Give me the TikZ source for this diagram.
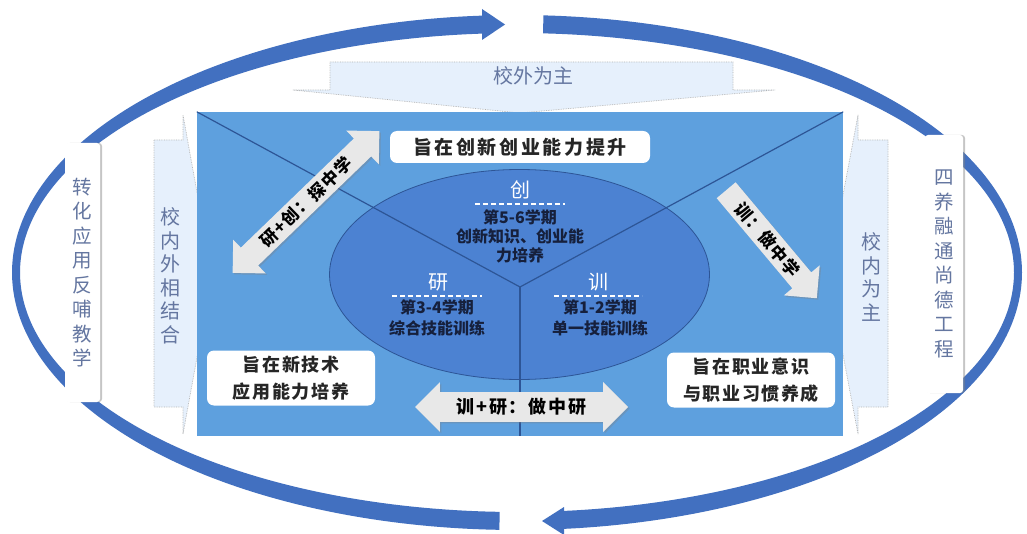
\documentclass[tikz,border=0pt]{standalone}
\usepackage{fontspec}
\setmainfont{Noto Sans CJK SC}
\usetikzlibrary{shapes.arrows,shapes.geometric,shadows}
\definecolor{ringblue}{RGB}{66,112,192}
\definecolor{rectblue}{RGB}{94,160,222}
\definecolor{ellblue}{RGB}{76,130,210}
\definecolor{linedark}{RGB}{45,85,150}
\definecolor{calloutfill}{RGB}{230,240,252}
\definecolor{softtext}{RGB}{100,118,160}
\definecolor{arrowgray}{RGB}{232,232,232}
\definecolor{navytext}{RGB}{22,32,60}
\newcommand\fsz[2]{\fontsize{#1pt}{#2pt}\selectfont}
\newcommand\lsp[1]{\addfontfeature{LetterSpace=#1}}
\begin{document}
\begin{tikzpicture}[x=1pt,y=-1pt,
  outbox/.style={fill=white, rounded corners=3pt, drop shadow={shadow xshift=2pt, shadow yshift=0pt, opacity=0.45}, text=softtext, align=center, font=\fsz{19.5}{24.5}, inner sep=0pt},
  callout/.style={fill=calloutfill, draw=gray!60, densely dotted, line width=0.7pt},
  callouttext/.style={text=softtext, align=center, font=\fsz{20}{23.5}},
  aimbox/.style={fill=white, rounded corners=7pt, align=center, font=\bfseries\fsz{18}{27}\lsp{9}, inner sep=0pt, text=black!85},
  stagelbl/.style={text=white, font=\fsz{20}{22}},
  stagetxt/.style={text=navytext, align=center, font=\bfseries\fsz{16}{19}},
  sep/.style={white, line width=1.8pt, dash pattern=on 5pt off 3pt},
  grayarrow/.style={fill=arrowgray, draw=none, text=black, font=\bfseries\fsz{17}{19}\lsp{8}, inner sep=4pt, drop shadow={shadow xshift=1.5pt, shadow yshift=-1.5pt, opacity=0.35}},
]
\useasboundingbox (0,0) rectangle (1027,534);
\fill[white] (0,0) rectangle (1027,534);

% outer ring arrows (crescent bands)
\fill[ringblue] plot[domain=94:268, samples=90, smooth, variable=\t] ({517+505*cos(\t)},{272.5-257.5*sin(\t)})
  -- plot[domain=268:94, samples=90, smooth, variable=\t] ({517+497*cos(\t)},{272.5-239.5*sin(\t)}) -- cycle;
\fill[ringblue] (482,9) -- (505,24.5) -- (482,40) -- cycle;
\fill[ringblue] plot[domain=87:-85, samples=90, smooth, variable=\t] ({517+505*cos(\t)},{272.5-257.5*sin(\t)})
  -- plot[domain=-85:87, samples=90, smooth, variable=\t] ({517+497*cos(\t)},{272.5-239.5*sin(\t)}) -- cycle;
\fill[ringblue] (564,507) -- (542,521) -- (564,535) -- cycle;

% outer white boxes
\node[outbox, minimum width=35, minimum height=259] (lbox) at (82.5,272.5) {转\\化\\应\\用\\反\\哺\\教\\学};
\node[outbox, minimum width=38, minimum height=258] (rbox) at (944,264) {四\\养\\融\\通\\尚\\德\\工\\程};

% callouts
\draw[callout] (330,62) -- (733,62) -- (733,90) -- (775,90) -- (520,113) -- (293,90) -- (330,90) -- cycle;
\node[callouttext] (toptxt) at (533,76) {校外为主};
\draw[callout] (154,140) -- (183,140) -- (183,115) -- (212,275) -- (183,434) -- (183,407) -- (154,407) -- cycle;
\node[callouttext] (lefttxt) at (170,276) {校\\内\\外\\相\\结\\合};
\draw[callout] (888,140) -- (858,140) -- (858,115) -- (828,275) -- (858,434) -- (858,407) -- (888,407) -- cycle;
\node[callouttext] (righttxt) at (871,277) {校\\内\\为\\主};

% central panel
\node[fill=rectblue, minimum width=646, minimum height=324, inner sep=0pt] (panel) at (520,274) {};
\node[ellipse, fill=ellblue, draw=linedark, line width=0.8pt, minimum width=380, minimum height=210, inner sep=0pt] (ell) at (519.5,274.5) {};
\coordinate (J) at (520,287);
\draw[linedark, line width=1.2pt] (panel.north west) -- (J) -- (panel.north east);
\draw[linedark, line width=1.2pt] (J) -- (panel.south);

% stages
\node[stagelbl] (chuang) at (520,190) {创};
\draw[sep] (475,204) -- (565,204);
\node[stagetxt] (chuangtxt) at (520,236) {第5-6学期\\创新知识、创业能\\力培养};
\node[stagelbl] (yan) at (438,282) {研};
\draw[sep] (392,296) -- (482,296);
\node[stagetxt, font=\bfseries\fsz{16}{20.5}] (yantxt) at (437,318) {第3-4学期\\综合技能训练};
\node[stagelbl] (xun) at (598,282) {训};
\draw[sep] (554,296) -- (642,296);
\node[stagetxt, font=\bfseries\fsz{16}{20.5}] (xuntxt) at (600,318) {第1-2学期\\单一技能训练};

% aim boxes
\node[aimbox, font=\bfseries\fsz{19}{24}\lsp{14}, minimum width=260, minimum height=32] (aimtop) at (520,147) {旨在创新创业能力提升};
\node[aimbox, minimum width=168, minimum height=55] (aimleft) at (291,378) {旨在新技术\\应用能力培养};
\node[aimbox, minimum width=168, minimum height=55] (aimright) at (751,380) {旨在职业意识\\与职业习惯养成};

% gray arrows
\node[grayarrow, double arrow, double arrow head extend=11pt, minimum height=204, rotate=44] (a1) at (306,202) {研+创：探中学};
\node[grayarrow, single arrow, single arrow head extend=11pt, minimum height=141, rotate=-50] (a2) at (767.5,239.5) {训：做中学};
\node[grayarrow, double arrow, double arrow head extend=10pt, minimum height=213, font=\bfseries\fsz{18}{19}\lsp{10}, inner ysep=6pt] (a3) at (521.5,407) {训+研：做中研};
\end{tikzpicture}
\end{document}
